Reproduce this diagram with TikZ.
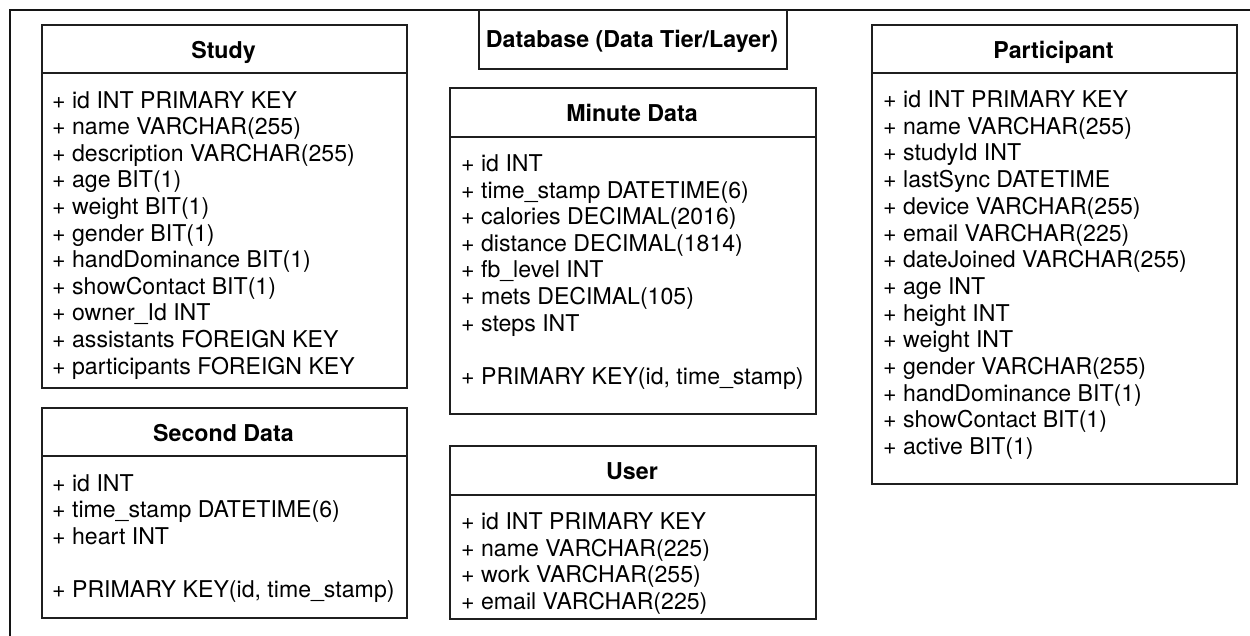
\documentclass[tikz,border=0pt]{standalone}
\usepackage{fontspec}
\setmainfont{TeX Gyre Heros}
\begin{document}
\begin{tikzpicture}[x=1pt,y=-1pt,
  tbl/.style={draw=black!88, line width=1.6pt, rectangle, inner sep=0pt, anchor=north west},
  sep/.style={draw=black!88, line width=1.6pt},
  hdr/.style={font=\fontsize{23.2}{26.7}\selectfont\bfseries, anchor=base, inner sep=0pt},
  row/.style={font=\fontsize{23.1}{26.7}\selectfont, anchor=base west, inner sep=0pt}]
\useasboundingbox (0,0) rectangle (1250,635);
\fill[white] (0,0) rectangle (1250,635);
% outer frame
\coordinate (fbl) at (9.5,645);
\coordinate (ftl) at (9.5,9.5);
\coordinate (ftr) at (1260,9.5);
\draw[draw=black!92, line width=2pt] (fbl) -- (ftl) -- (ftr);

% title box
\node[tbl, minimum width=308pt, minimum height=58.5pt] (title) at (478,9.5) {};
\node[hdr] (titletext) at (632,47) {Database (Data Tier/Layer)};

% Study
\node[tbl, minimum width=365pt, minimum height=363pt] (study) at (41,24) {};
\draw[sep] ([yshift=-49pt]study.north west) -- ([yshift=-49pt]study.north east);
\node[hdr] (studyh) at (223.5,58) {Study};
\foreach \t [count=\i] in {+ id INT PRIMARY KEY, + name VARCHAR(255), + description VARCHAR(255), + age BIT(1), + weight BIT(1), + gender BIT(1), + handDominance BIT(1), + showContact BIT(1), + owner\_Id INT, + assistants FOREIGN KEY, + participants FOREIGN KEY}
  \node[row] (study-\i) at (52,{108+(\i-1)*26.6}) {\t};

% Second Data
\node[tbl, minimum width=365pt, minimum height=210pt] (second) at (41,407) {};
\draw[sep] ([yshift=-49pt]second.north west) -- ([yshift=-49pt]second.north east);
\node[hdr] (secondh) at (223.5,441) {Second Data};
\foreach \t [count=\i] in {+ id INT, + time\_stamp DATETIME(6), + heart INT}
  \node[row] (second-\i) at (52,{491+(\i-1)*26.6}) {\t};
\node[row] (second-pk) at (52,{491+4*26.6}) {+ PRIMARY KEY(id, time\_stamp)};

% Minute Data
\node[tbl, minimum width=366pt, minimum height=326pt] (minute) at (449,87) {};
\draw[sep] ([yshift=-50pt]minute.north west) -- ([yshift=-50pt]minute.north east);
\node[hdr] (minuteh) at (632,121) {Minute Data};
\foreach \t [count=\i] in {+ id INT, + time\_stamp DATETIME(6), + calories DECIMAL(2016), + distance DECIMAL(1814), + fb\_level INT, + mets DECIMAL(105), + steps INT}
  \node[row] (minute-\i) at (461,{171.5+(\i-1)*26.6}) {\t};
\node[row] (minute-pk) at (461,{171.5+8*26.6}) {+ PRIMARY KEY(id, time\_stamp)};

% User
\node[tbl, minimum width=366pt, minimum height=173pt] (user) at (449,445) {};
\draw[sep] ([yshift=-50pt]user.north west) -- ([yshift=-50pt]user.north east);
\node[hdr] (userh) at (632,479) {User};
\foreach \t [count=\i] in {+ id INT PRIMARY KEY, + name VARCHAR(225), + work VARCHAR(255), + email VARCHAR(225)}
  \node[row] (user-\i) at (461,{529.5+(\i-1)*26.6}) {\t};

% Participant
\node[tbl, minimum width=365pt, minimum height=459pt] (part) at (871,24) {};
\draw[sep] ([yshift=-49pt]part.north west) -- ([yshift=-49pt]part.north east);
\node[hdr] (parth) at (1053.5,58) {Participant};
\foreach \t [count=\i] in {+ id INT PRIMARY KEY, + name VARCHAR(255), + studyId INT, + lastSync DATETIME, + device VARCHAR(255), + email VARCHAR(225), + dateJoined VARCHAR(255), + age INT, + height INT, + weight INT, + gender VARCHAR(255), + handDominance BIT(1), + showContact BIT(1), + active BIT(1)}
  \node[row] (part-\i) at (883,{107.5+(\i-1)*26.7}) {\t};
\end{tikzpicture}
\end{document}
